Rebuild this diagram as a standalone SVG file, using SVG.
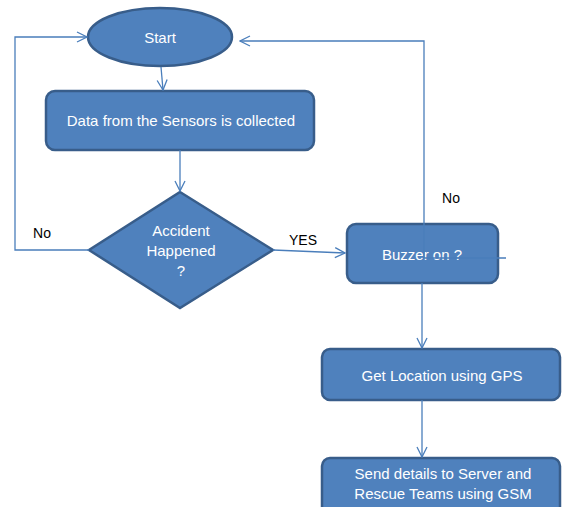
<svg xmlns="http://www.w3.org/2000/svg" width="564" height="507" viewBox="0 0 564 507">
<style>
.shape{fill:#4F81BD;stroke:#385D8A;stroke-width:2.5}
.conn{fill:none;stroke:#4A7EBB;stroke-width:1.3}
.t{fill:#FFFFFF;font-family:"Liberation Sans",Arial,sans-serif;font-size:15px;text-anchor:middle}
.lbl{fill:#000000;font-family:"Liberation Sans",Arial,sans-serif;font-size:14px;text-anchor:middle}
</style>
<defs>
<marker id="arr" viewBox="0 0 12 12" refX="11" refY="6" markerWidth="12" markerHeight="12" markerUnits="userSpaceOnUse" orient="auto">
<path d="M1,1 L11,6 L1,11" fill="none" stroke="#4A7EBB" stroke-width="1.3"/>
</marker>
</defs>
<rect width="564" height="507" fill="#FFFFFF"/>
<g id="start">
<ellipse class="shape" cx="160" cy="37" rx="72" ry="29"/>
<text class="t" x="160" y="43">Start</text>
</g>
<g id="collect">
<rect class="shape" x="46" y="91" width="268" height="59" rx="9"/>
<text class="t" x="181" y="126">Data from the Sensors is collected</text>
</g>
<g id="accident">
<polygon class="shape" points="180,192 273,250 180,308 89,250"/>
<text class="t" x="181" y="236">Accident</text>
<text class="t" x="181" y="256">Happened</text>
<text class="t" x="181" y="276">?</text>
</g>
<g id="buzzer">
<rect class="shape" x="347" y="224" width="151" height="59" rx="9"/>
<text class="t" x="422" y="260">Buzzer on ?</text>
</g>
<g id="gps">
<rect class="shape" x="322" y="349" width="238" height="51" rx="8"/>
<text class="t" x="442" y="381">Get Location using GPS</text>
</g>
<g id="send">
<rect class="shape" x="322" y="458" width="238" height="60" rx="8"/>
<text class="t" x="443" y="479">Send details to Server and</text>
<text class="t" x="443" y="499">Rescue Teams using GSM</text>
</g>
<g id="connectors">
<path class="conn" d="M161,67 L163,90" marker-end="url(#arr)"/>
<path class="conn" d="M180,150 L180,191" marker-end="url(#arr)"/>
<path class="conn" d="M89,250 L15,250 L15,37 L87,37" marker-end="url(#arr)"/>
<path class="conn" d="M273,250 L345,253" marker-end="url(#arr)"/>
<path class="conn" d="M506,258 L424,258 L424,41 L240,41" marker-end="url(#arr)"/>
<path class="conn" d="M422,283 L422,348" marker-end="url(#arr)"/>
<path class="conn" d="M422,400 L422,457" marker-end="url(#arr)"/>
<text class="lbl" x="42" y="238">No</text>
<text class="lbl" x="303" y="245">YES</text>
<text class="lbl" x="451" y="203">No</text>
</g>
</svg>
